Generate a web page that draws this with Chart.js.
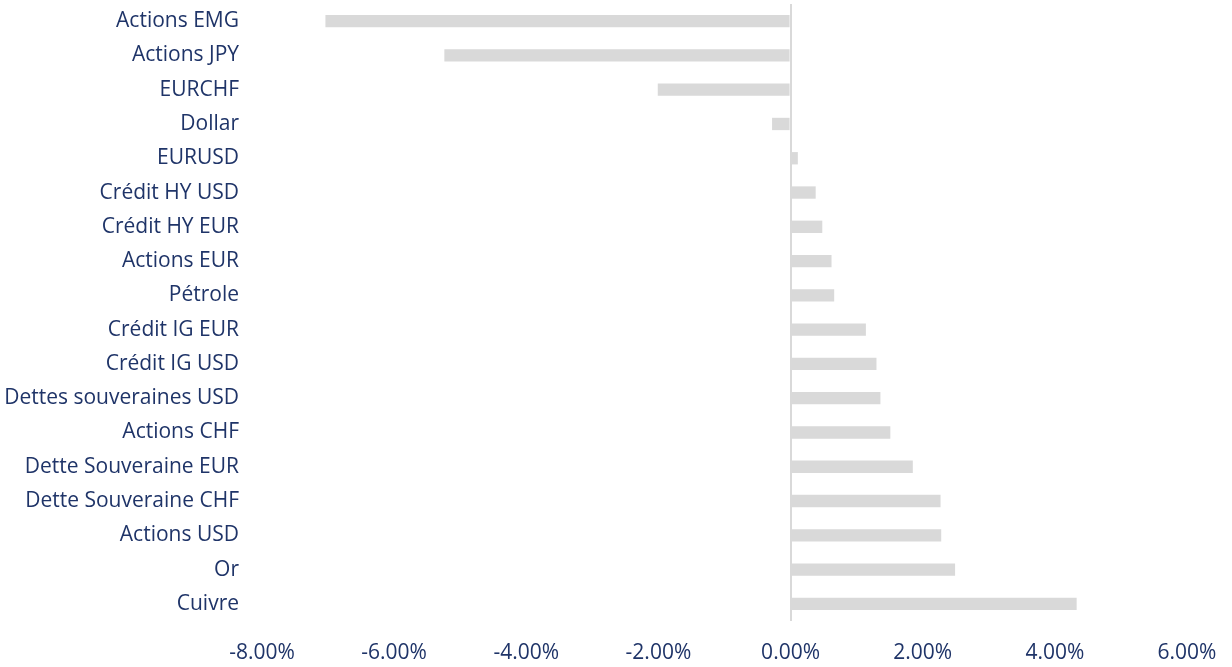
<!DOCTYPE html>
<html>
<head>
<meta charset="utf-8">
<script src="https://cdn.jsdelivr.net/npm/chart.js@4"></script>
<style>
  html, body { margin: 0; padding: 0; background: #ffffff; }
  #wrap { width: 1232px; height: 667px; position: relative; }
</style>
</head>
<body>
<div id="wrap"><canvas id="c"></canvas></div>
<script>
// Performance by asset class (%)
const categories = [
  "Actions EMG", "Actions JPY", "EURCHF", "Dollar", "EURUSD",
  "Crédit HY USD", "Crédit HY EUR", "Actions EUR", "Pétrole",
  "Crédit IG EUR", "Crédit IG USD", "Dettes souveraines USD",
  "Actions CHF", "Dette Souveraine EUR", "Dette Souveraine CHF",
  "Actions USD", "Or", "Cuivre"
];
const performance = [
  -7.04, -5.24, -2.01, -0.28, 0.11,
  0.38, 0.48, 0.62, 0.66,
  1.14, 1.30, 1.36,
  1.51, 1.85, 2.27,
  2.28, 2.49, 4.33
];
const tickMin = -8;
const tickMax = 6;
const tickStep = 2;

const navy = '#1f3468';
const barGrey = '#d9d9d9';
const labelFont = { family: 'Open Sans', size: 21 };

new Chart(document.getElementById('c'), {
  type: 'bar',
  data: {
    labels: categories,
    datasets: [{
      data: performance,
      backgroundColor: barGrey,
      borderWidth: 0,
      barPercentage: 0.36,
      categoryPercentage: 1.0
    }]
  },
  options: {
    indexAxis: 'y',
    responsive: true,
    maintainAspectRatio: false,
    animation: false,
    layout: { padding: { top: 4, right: 45, left: 0, bottom: 0 } },
    plugins: { legend: { display: false }, tooltip: { enabled: false } },
    scales: {
      x: {
        min: tickMin,
        max: tickMax,
        border: { display: false },
        grid: {
          drawTicks: false,
          lineWidth: 2,
          color: (ctx) => (ctx.tick && ctx.tick.value === 0) ? barGrey : 'rgba(0,0,0,0)'
        },
        ticks: {
          stepSize: tickStep,
          color: navy,
          font: labelFont,
          padding: 19,
          maxRotation: 0,
          callback: (v) => Number(v).toFixed(2) + '%'
        },
        afterFit: (scale) => {
          scale.height = 46;
          // plot width is set by the layout padding, not by the end labels
          scale.paddingLeft = 0;
          scale.paddingRight = 0;
        }
      },
      y: {
        border: { display: false },
        grid: { display: false, drawTicks: false },
        ticks: {
          color: navy,
          font: labelFont,
          padding: 23,
          autoSkip: false
        },
        afterFit: (scale) => {
          scale.width = 262;
          // keep the label gap horizontal only
          scale.paddingTop = 0;
          scale.paddingBottom = 0;
        }
      }
    }
  }
});
</script>
</body>
</html>
